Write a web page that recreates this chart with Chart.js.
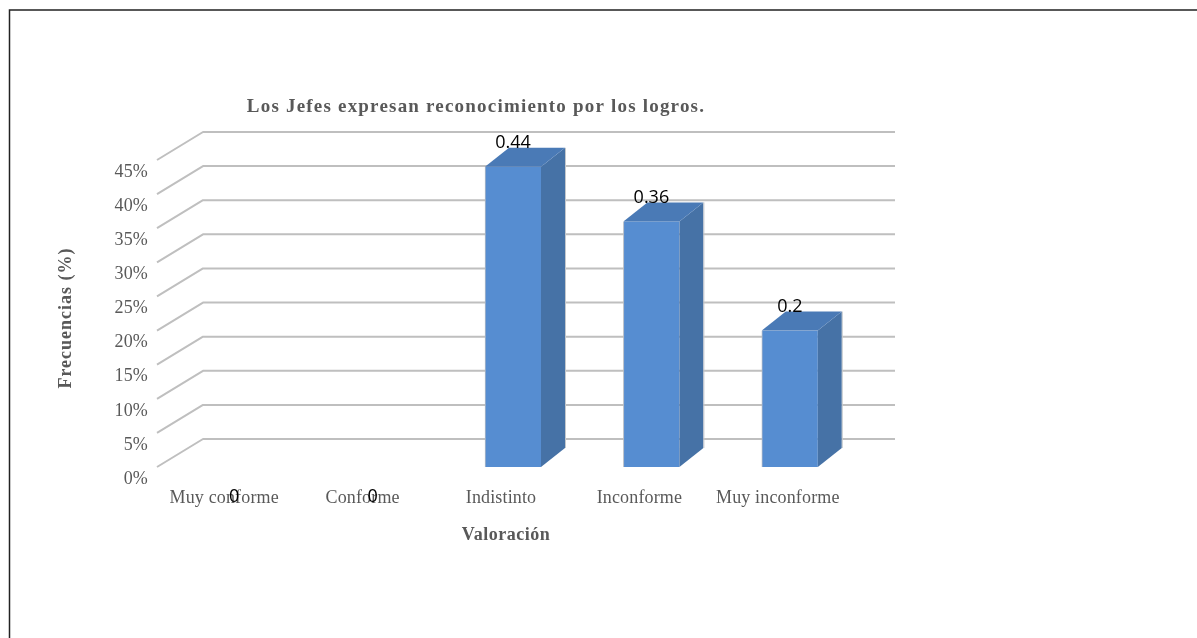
<!DOCTYPE html>
<html><head><meta charset="utf-8">
<style>html,body{margin:0;padding:0;background:#fff;overflow:hidden}canvas{display:block}</style>
<script src="https://cdn.jsdelivr.net/npm/chart.js@4"></script>
</head><body><canvas id="c" width="1197" height="638"></canvas>
<script>
const categories = ["Muy conforme","Conforme","Indistinto","Inconforme","Muy inconforme"];
const frecuencias = [0,0,0.44,0.36,0.2];
const tickStep = 0.05, axisMax = 0.45;
const chartTitle = "Los Jefes expresan reconocimiento por los logros.";
const xTitle = "Valoración", yTitle = "Frecuencias (%)";
const TEXT="#595959", GRID="#bfbfbf", SERIF="'Liberation Serif'";
const SPACING="0.15px";

function nudge(obj, method, dx, dy, spacing){
  const orig = obj[method];
  obj[method] = function(...a){
    const c=this.ctx; c.save(); c.translate(dx,dy);
    c.letterSpacing=spacing;
    orig.apply(this,a); c.restore();
  };
}
const look3d = {
  id:"look3d",
  beforeDraw(chart){
    const c=chart.ctx, W=chart.width, H=chart.height;
    c.save(); c.strokeStyle="#222"; c.lineWidth=1.5; c.beginPath();
    c.moveTo(9.5,H); c.lineTo(9.5,10); c.lineTo(W,10); c.stroke(); c.restore();
    c.letterSpacing=SPACING;
  },
  afterLayout(chart){
    if(chart.$nudged) return; chart.$nudged=true;
    nudge(chart.titleBlock,"draw",21.5,0,"1.2px");
    nudge(chart.scales.x,"drawTitle",-7,0,"0.5px");
    nudge(chart.scales.y,"drawTitle",0,4.5,"1px");
  },
  beforeDatasetsDraw(chart){
    const c=chart.ctx, y=chart.scales.y, a=chart.chartArea;
    const fx=a.left-10, bx=fx+46, rx=a.right+36;
    c.save(); c.strokeStyle=GRID; c.lineWidth=2; c.lineJoin="round";
    y.ticks.forEach(t=>{
      const py=y.getPixelForValue(t.value);
      c.beginPath(); c.moveTo(fx,py); c.lineTo(bx,py-28); c.lineTo(rx,py-28); c.stroke();
    });
    c.restore();
  },
  afterDatasetsDraw(chart){
    const c=chart.ctx, dx=24, dy=19;
    const bars=chart.getDatasetMeta(0).data;
    c.save();
    bars.forEach((b,i)=>{
      if(!frecuencias[i]) return;
      const p=b.getProps(["x","y","base","width"],true);
      const l=p.x-p.width/2, r=p.x+p.width/2;
      c.fillStyle="#4672a6"; c.beginPath();
      c.moveTo(r,p.y); c.lineTo(r+dx,p.y-dy); c.lineTo(r+dx,p.base-dy); c.lineTo(r,p.base); c.closePath(); c.fill();
      c.strokeStyle="#c4c8cc"; c.lineWidth=1; c.beginPath(); c.moveTo(r+dx+.5,p.y-dy); c.lineTo(r+dx+.5,p.base-dy); c.stroke();
      c.fillStyle="#4a7ab6"; c.beginPath();
      c.moveTo(l,p.y); c.lineTo(l+dx,p.y-dy); c.lineTo(r+dx,p.y-dy); c.lineTo(r,p.y); c.closePath(); c.fill();
    });
    c.letterSpacing="0px";
    c.fillStyle="#000"; c.font="18px 'Open Sans'"; c.textAlign="center"; c.textBaseline="middle";
    bars.forEach((b,i)=>{
      const v=frecuencias[i], p=b.getProps(["x","y","base"],true);
      c.fillText(String(v), p.x-(v?0:2), v? p.y-24 : p.base+30);
    });
    c.restore();
    c.letterSpacing=SPACING;
  }
};
new Chart(document.getElementById("c"),{
  type:"bar",
  data:{labels:categories,datasets:[{data:frecuencias,
    backgroundColor:ctx=>ctx.raw?"#568dd1":"rgba(0,0,0,0)",
    borderColor:"#b4bcc6",borderWidth:ctx=>ctx.raw?{left:1,bottom:1}:0,barThickness:56}]},
  plugins:[look3d],
  options:{
    responsive:false,animation:false,
    layout:{padding:{left:50,right:338,top:0,bottom:91}},
    plugins:{
      legend:{display:false},tooltip:{enabled:false},
      title:{display:true,text:chartTitle,color:TEXT,font:{family:SERIF,size:19,weight:"bold"},padding:{top:96,bottom:41.2}}
    },
    scales:{
      x:{
        afterFit(s){s.height=80},
        grid:{display:false},border:{display:false},
        ticks:{color:TEXT,font:{family:SERIF,size:18},padding:12,labelOffset:-12,maxRotation:0,autoSkip:false},
        title:{display:true,text:xTitle,color:TEXT,font:{family:SERIF,size:18,weight:"bold"},padding:{top:0,bottom:1}}
      },
      y:{
        min:0,max:axisMax,
        afterFit(s){s.width=117},
        grid:{display:false,drawTicks:false},border:{display:false},
        ticks:{stepSize:tickStep,color:TEXT,font:{family:SERIF,size:18},padding:19,labelOffset:12,
          callback:v=>Math.round(v*100)+"%"},
        title:{display:true,text:yTitle,color:TEXT,font:{family:SERIF,size:18,weight:"bold"},padding:{top:6,bottom:0}}
      }
    }
  }
});
</script></body></html>
